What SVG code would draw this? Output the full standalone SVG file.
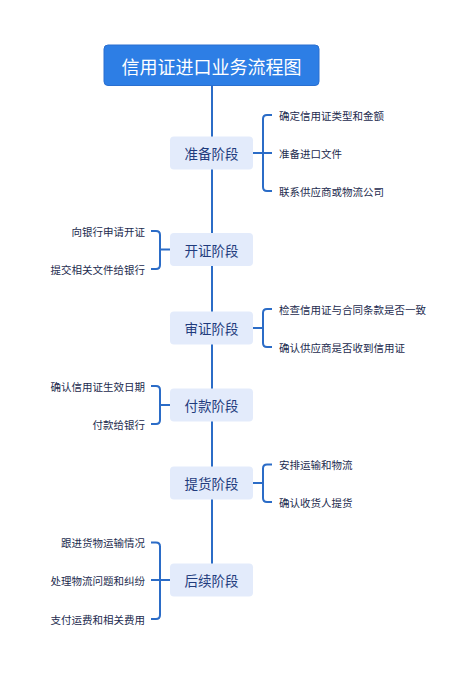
<svg xmlns="http://www.w3.org/2000/svg" width="476" height="675" viewBox="0 0 476 675">
<style>
text{font-family:"Noto Sans CJK SC","Noto Sans",sans-serif;dominant-baseline:central}
.title{fill:#fff;font-size:18px;text-anchor:middle}
.stage rect{fill:#e3ebfb}
.stage text{fill:#1f3b7d;font-size:13.5px;text-anchor:middle}
.leaf{fill:#1c2b4e;font-size:10.5px}
.r{text-anchor:start}
.l{text-anchor:end}
.ln{fill:none;stroke:#2b6cc7;stroke-width:2}
</style>
<rect width="476" height="675" fill="#fff"/>
<g id="connectors">
<line class="ln" x1="212" y1="85" x2="212" y2="564"/>
<path class="ln" d="M253,153 H263 M272,115 H267 Q263,115 263,119 V187 Q263,191 267,191 H272 M263,153 H272"/>
<path class="ln" d="M170,249.5 H160 M151,231 H156 Q160,231 160,235 V265 Q160,269 156,269 H151"/>
<path class="ln" d="M253,328 H263 M272,309 H267 Q263,309 263,313 V343 Q263,347 267,347 H272"/>
<path class="ln" d="M170,405 H160 M151,386 H156 Q160,386 160,390 V420 Q160,424 156,424 H151"/>
<path class="ln" d="M253,483 H263 M272,464.5 H267 Q263,464.5 263,468.5 V498 Q263,502 267,502 H272"/>
<path class="ln" d="M170,580 H160 M151,542.5 H156 Q160,542.5 160,546.5 V615 Q160,619 156,619 H151 M160,580 H151"/>
</g>
<g id="title">
<rect x="104" y="45" width="215" height="40.5" rx="4" fill="#2d7ee5" stroke="#2a6fd0" stroke-width="1"/>
<text class="title" x="211.5" y="65.5">信用证进口业务流程图</text>
</g>
<g id="stage1" class="stage">
<rect x="170" y="136.5" width="83" height="33" rx="4"/>
<text x="211.5" y="153">准备阶段</text>
</g>
<g id="stage2" class="stage">
<rect x="170" y="233" width="83" height="33" rx="4"/>
<text x="211.5" y="249.5">开证阶段</text>
</g>
<g id="stage3" class="stage">
<rect x="170" y="311.5" width="83" height="33" rx="4"/>
<text x="211.5" y="328">审证阶段</text>
</g>
<g id="stage4" class="stage">
<rect x="170" y="388.5" width="83" height="33" rx="4"/>
<text x="211.5" y="405">付款阶段</text>
</g>
<g id="stage5" class="stage">
<rect x="170" y="466.5" width="83" height="33" rx="4"/>
<text x="211.5" y="483">提货阶段</text>
</g>
<g id="stage6" class="stage">
<rect x="170" y="563.5" width="83" height="33" rx="4"/>
<text x="211.5" y="580">后续阶段</text>
</g>
<g id="leaf1a"><text class="leaf r" x="279" y="115">确定信用证类型和金额</text></g>
<g id="leaf1b"><text class="leaf r" x="279" y="153">准备进口文件</text></g>
<g id="leaf1c"><text class="leaf r" x="279" y="191">联系供应商或物流公司</text></g>
<g id="leaf2a"><text class="leaf l" x="145" y="231">向银行申请开证</text></g>
<g id="leaf2b"><text class="leaf l" x="145" y="269">提交相关文件给银行</text></g>
<g id="leaf3a"><text class="leaf r" x="279" y="309">检查信用证与合同条款是否一致</text></g>
<g id="leaf3b"><text class="leaf r" x="279" y="347">确认供应商是否收到信用证</text></g>
<g id="leaf4a"><text class="leaf l" x="145" y="386">确认信用证生效日期</text></g>
<g id="leaf4b"><text class="leaf l" x="145" y="424">付款给银行</text></g>
<g id="leaf5a"><text class="leaf r" x="279" y="464.5">安排运输和物流</text></g>
<g id="leaf5b"><text class="leaf r" x="279" y="502">确认收货人提货</text></g>
<g id="leaf6a"><text class="leaf l" x="145" y="542.5">跟进货物运输情况</text></g>
<g id="leaf6b"><text class="leaf l" x="145" y="580">处理物流问题和纠纷</text></g>
<g id="leaf6c"><text class="leaf l" x="145" y="619">支付运费和相关费用</text></g>
</svg>
